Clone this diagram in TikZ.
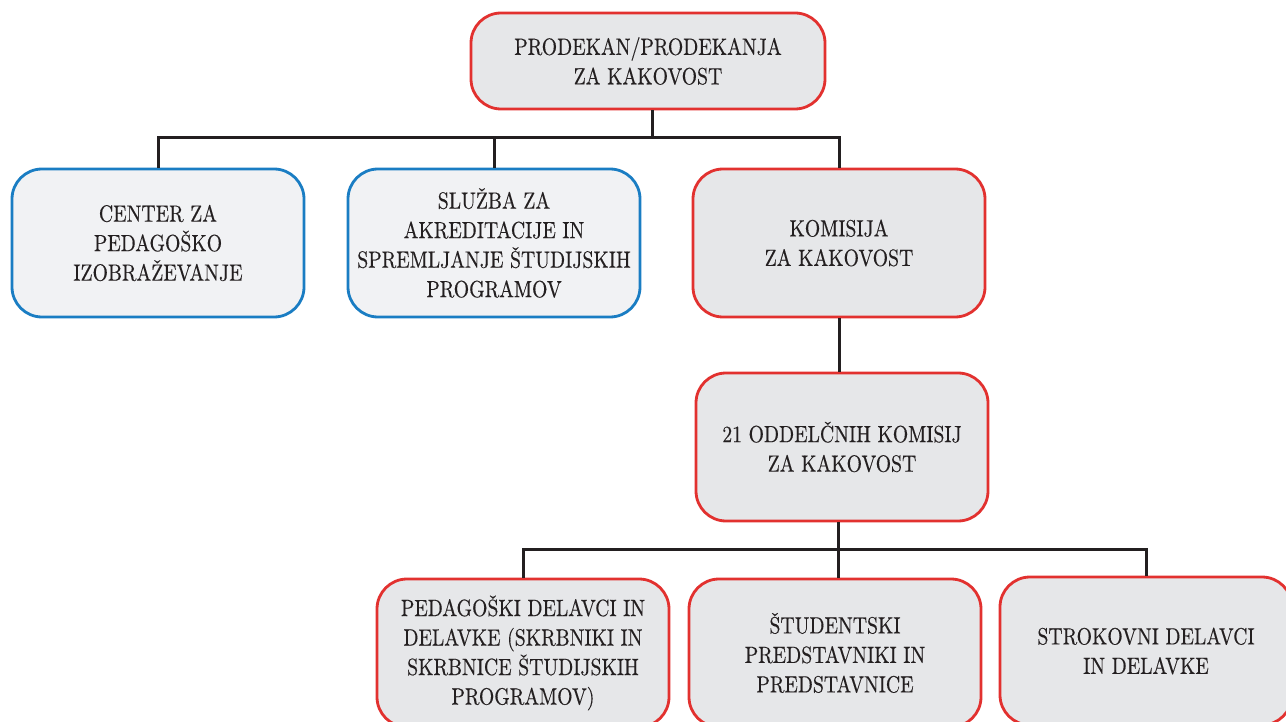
\documentclass[tikz,border=0pt]{standalone}
\usepackage{fontspec}
\setmainfont{lmroman10-regular.otf}[FakeStretch=0.84, FakeBold=0.35]
\definecolor{redb}{HTML}{E2312F}
\definecolor{blueb}{HTML}{1A7DC3}
\definecolor{grayfill}{HTML}{E6E7E9}
\definecolor{lightfill}{HTML}{F1F2F4}
\definecolor{txt}{HTML}{231F20}
\tikzset{
  box/.style={line width=2.8pt, rounded corners=30pt, minimum width=292pt, minimum height=148pt,
    align=center, font=\fontsize{23.5}{29.5}\selectfont, text=txt, inner sep=0pt},
  redbox/.style={box, draw=redb, fill=grayfill},
  bluebox/.style={box, draw=blueb, fill=lightfill},
  conn/.style={draw=txt, line width=3pt}
}
\begin{document}
\begin{tikzpicture}[x=1pt,y=-1pt]
\useasboundingbox (0,0) rectangle (1286,722);
\clip (0,0) rectangle (1286,722);
\coordinate (busA) at (652,138);
\coordinate (busB) at (838,549);
\node[redbox, minimum width=354pt, minimum height=96pt] (top) at (648,61) {PRODEKAN/PRODEKANJA\\ZA KAKOVOST};
\node[bluebox] (b1) at (158,243) {CENTER ZA\\PEDAGOŠKO\\IZOBRAŽEVANJE};
\node[bluebox] (b2) at (494,243) {SLUŽBA ZA\\AKREDITACIJE IN\\SPREMLJANJE ŠTUDIJSKIH\\PROGRAMOV};
\node[redbox] (b3) at (839,243) {KOMISIJA\\ZA KAKOVOST};
\node[redbox] (b4) at (842,447) {21 ODDELČNIH KOMISIJ\\ZA KAKOVOST};
\node[redbox] (b5) at (523,653) {PEDAGOŠKI DELAVCI IN\\DELAVKE (SKRBNIKI IN\\SKRBNICE ŠTUDIJSKIH\\PROGRAMOV)};
\node[redbox] (b6) at (835,653) {ŠTUDENTSKI\\PREDSTAVNIKI IN\\PREDSTAVNICE};
\node[redbox] (b7) at (1146,651) {STROKOVNI DELAVCI\\IN DELAVKE};
\draw[conn] (busA |- top.south) -- (busA);
\draw[conn] (b1.north) |- (busA) -| (b3.north);
\draw[conn] (b2.north) -- (b2.north |- busA);
\draw[conn] (b3.south) -- (b3.south |- b4.north);
\draw[conn] (busB |- b4.south) -- (busB);
\draw[conn] (b5.north) |- (busB) -| (b7.north);
\draw[conn] (busB) -- (busB |- b6.north);
\end{tikzpicture}
\end{document}
